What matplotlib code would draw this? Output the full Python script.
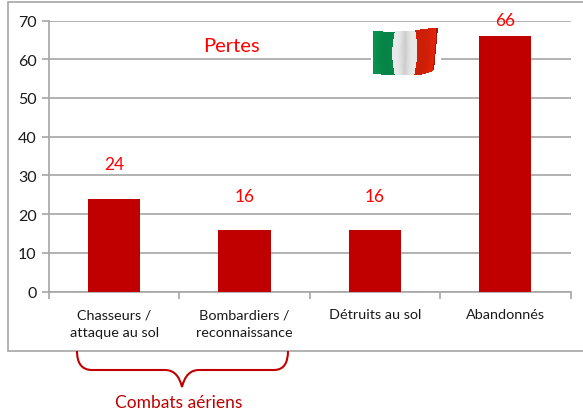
import numpy as np
import matplotlib
matplotlib.use("Agg")
import matplotlib.pyplot as plt
from matplotlib.path import Path
from matplotlib.patches import PathPatch, Rectangle

categories = ["Chasseurs /\nattaque au sol", "Bombardiers /\nreconnaissance", "Détruits au sol", "Abandonnés"]
values = [24, 16, 16, 66]
yticks = [0, 10, 20, 30, 40, 50, 60, 70]

W, H = 583, 414
plt.rcParams['font.family'] = ['Lato', 'DejaVu Sans']
fig = plt.figure(figsize=(W/100, H/100), dpi=100, facecolor='white')

bg = fig.add_axes([0, 0, 1, 1], zorder=0)
bg.set_xlim(0, W); bg.set_ylim(H, 0); bg.axis('off')
bg.add_patch(Rectangle((8, 3), 600, 349, fc='white', ec='#a6a6a6', lw=1.2))

L, R, T, B = 49, 570.5, 21.5, 292.5
ax = fig.add_axes([L/W, 1-B/H, (R-L)/W, (B-T)/H], zorder=1)
ax.patch.set_alpha(0)
x = np.arange(len(values))
ax.bar(x, values, width=0.4, color='#c00000', zorder=3)
ax.set_xlim(-0.5, 3.5); ax.set_ylim(0, 70)
ax.set_yticks(yticks)
ax.set_xticks(np.arange(-0.5, 4, 1))
ax.set_xticklabels([])
ax.tick_params(axis='x', length=5, width=1.2, color='#a6a6a6', direction='out')
ax.tick_params(axis='y', length=5, width=1.2, color='#a6a6a6', direction='out', labelsize=11.5, labelcolor='#1a1a1a', pad=4)
ax.grid(axis='y', color='#a6a6a6', lw=1.2, zorder=1)
ax.set_axisbelow(True)
for s in ['top', 'right']:
    ax.spines[s].set_visible(False)
for s in ['left', 'bottom']:
    ax.spines[s].set_color('#a6a6a6'); ax.spines[s].set_linewidth(1.2)
offs = [35, 34, 34, 16]
for xi, v, o in zip(x, values, offs):
    ax.annotate(str(v), (xi, v), xytext=(0, o*0.72), textcoords='offset points',
                ha='center', va='center', color='#ff0000', fontsize=12.5, zorder=6, annotation_clip=False)
for xi, c in zip(x, categories):
    ax.annotate(c, (xi, 0), xytext=(0, -12), textcoords='offset points', ha='center', va='top',
                fontsize=10.4, color='#1a1a1a', linespacing=1.55, annotation_clip=False)

ov = fig.add_axes([0, 0, 1, 1], zorder=5)
ov.set_xlim(0, W); ov.set_ylim(H, 0); ov.axis('off'); ov.patch.set_alpha(0)
ov.text(231, 46, "Pertes", color='#ff0000', fontsize=14.5, ha='center', va='center')
ov.text(179, 403, "Combats aériens", color='#c00000', fontsize=12.5, ha='center', va='center')

brace = Path([(77, 352), (77, 371), (92, 371), (165, 371), (178, 371), (182, 388),
              (186, 371), (199, 371), (274, 371), (288, 371), (288, 352)],
             [Path.MOVETO, Path.CURVE3, Path.CURVE3, Path.LINETO, Path.CURVE3, Path.CURVE3,
              Path.CURVE3, Path.CURVE3, Path.LINETO, Path.CURVE3, Path.CURVE3])
ov.add_patch(PathPatch(brace, fc='none', ec='#c00000', lw=1.5))

# waving flag, drawn as a warped colour mesh
ov.add_patch(Rectangle((371, 26), 70, 54, fc='white', ec='none'))
U, V = np.meshgrid(np.linspace(0, 1, 90), np.linspace(0, 1, 60))
X = 373 + 65*U - 3*np.sin(V*np.pi)*np.sin(U*np.pi*2.0) - 4*V*U**3
top = 32 + 0.6*np.sin(U*np.pi*2) - 3.5*np.clip((U-0.65)/0.35, 0, 1)
bot = 75 + 1.3*np.sin(U*np.pi*0.95) - 4*np.clip((U-0.65)/0.35, 0, 1)**2
Y = top + (bot-top)*V
shade = 0.97 + 0.05*np.cos(U*np.pi*4 + 0.2)
C = np.zeros(U.shape + (3,))
C[U < 0.33] = (0.03, 0.56, 0.30)
mid = (U >= 0.33) & (U < 0.65)
g = 0.78 + 0.17*np.abs(np.cos((U-0.33)/0.32*np.pi))
C[mid] = np.stack([g[mid]]*3, axis=1)
C[U >= 0.65] = (0.87, 0.13, 0.03)
C = np.clip(C*shade[..., None], 0, 1)
C[:, -3:] *= 0.7
ov.pcolormesh(X, Y, C[:-1, :-1], shading='flat', rasterized=True)
ov.set_xlim(0, W); ov.set_ylim(H, 0)

fig.savefig("out.png", dpi=100, facecolor='white')
